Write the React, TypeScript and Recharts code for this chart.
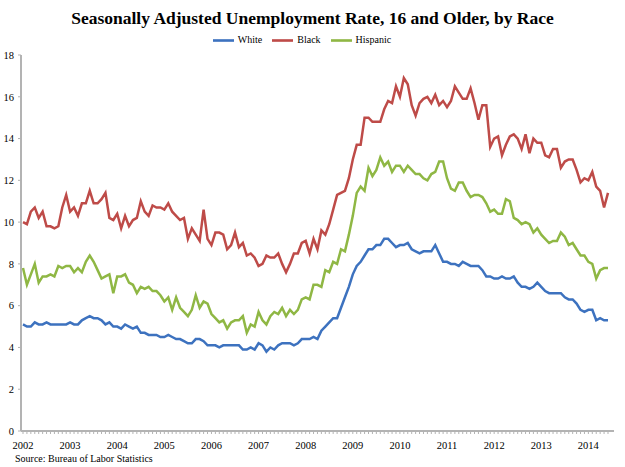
import React from "react";
import { Legend, Line, LineChart, XAxis, YAxis } from "recharts";

// Monthly rates, Jan 2002 – Jun 2014 (percent, seasonally adjusted)
const years = [2002, 2003, 2004, 2005, 2006, 2007, 2008, 2009, 2010, 2011, 2012, 2013, 2014];

const white = [
  5.1, 5.0, 5.0, 5.2, 5.1, 5.1, 5.2, 5.1, 5.1, 5.1, 5.1, 5.1,
  5.2, 5.1, 5.1, 5.3, 5.4, 5.5, 5.4, 5.4, 5.3, 5.1, 5.2, 5.0,
  5.0, 4.9, 5.1, 5.0, 4.9, 5.0, 4.7, 4.7, 4.6, 4.6, 4.6, 4.5,
  4.5, 4.6, 4.5, 4.4, 4.4, 4.3, 4.2, 4.2, 4.4, 4.4, 4.3, 4.1,
  4.1, 4.1, 4.0, 4.1, 4.1, 4.1, 4.1, 4.1, 3.9, 3.9, 4.0, 3.9,
  4.2, 4.1, 3.8, 4.0, 3.9, 4.1, 4.2, 4.2, 4.2, 4.1, 4.2, 4.4,
  4.4, 4.4, 4.5, 4.4, 4.8, 5.0, 5.2, 5.4, 5.4, 5.9, 6.4, 6.9,
  7.5, 7.9, 8.1, 8.4, 8.7, 8.7, 8.9, 8.9, 9.2, 9.2, 9.0, 8.8,
  8.9, 8.9, 9.0, 8.7, 8.6, 8.5, 8.6, 8.6, 8.6, 8.9, 8.5, 8.1,
  8.1, 8.0, 8.0, 7.9, 8.1, 8.0, 7.9, 7.9, 7.9, 7.7, 7.4, 7.4,
  7.3, 7.3, 7.4, 7.3, 7.3, 7.4, 7.1, 6.9, 6.9, 6.8, 6.9, 7.1,
  6.9, 6.7, 6.6, 6.6, 6.6, 6.6, 6.4, 6.3, 6.3, 6.1, 5.8, 5.7,
  5.8, 5.8, 5.3, 5.4, 5.3, 5.3,
];

const black = [
  10.0, 9.9, 10.5, 10.7, 10.2, 10.5, 9.8, 9.8, 9.7, 9.8, 10.7, 11.3,
  10.5, 10.7, 10.3, 10.9, 10.9, 11.5, 10.9, 10.9, 11.1, 11.4, 10.2, 10.1,
  10.4, 9.7, 10.3, 9.8, 10.1, 10.2, 11.0, 10.5, 10.3, 10.8, 10.7, 10.7,
  10.6, 10.9, 10.5, 10.3, 10.1, 10.2, 9.2, 9.7, 9.4, 9.1, 10.6, 9.2,
  8.9, 9.5, 9.5, 9.4, 8.7, 8.9, 9.5, 8.8, 9.0, 8.4, 8.5, 8.3,
  7.9, 8.0, 8.4, 8.3, 8.3, 8.5, 8.0, 7.6, 8.0, 8.5, 8.5, 9.0,
  9.1, 8.5, 9.2, 8.7, 9.6, 9.4, 9.9, 10.6, 11.3, 11.4, 11.5, 12.1,
  13.0, 13.7, 13.7, 15.0, 15.0, 14.8, 14.8, 14.8, 15.4, 15.8, 15.7, 16.5,
  16.0, 16.9, 16.6, 15.6, 15.1, 15.7, 15.9, 16.0, 15.7, 16.1, 15.6, 15.8,
  15.5, 15.8, 16.5, 16.2, 15.9, 15.9, 16.4, 15.7, 14.9, 15.6, 15.6, 13.6,
  14.0, 14.1, 13.2, 13.7, 14.1, 14.2, 14.0, 13.5, 14.2, 13.3, 14.0, 13.8,
  13.8, 13.2, 13.1, 13.5, 13.5, 12.6, 12.9, 13.0, 13.0, 12.5, 11.9, 12.1,
  12.0, 12.4, 11.7, 11.5, 10.7, 11.4,
];

const hispanic = [
  7.8, 7.0, 7.5, 8.0, 7.1, 7.4, 7.4, 7.5, 7.4, 7.9, 7.8, 7.9,
  7.9, 7.6, 7.8, 7.6, 8.1, 8.4, 8.1, 7.7, 7.3, 7.4, 7.5, 6.6,
  7.4, 7.4, 7.5, 7.1, 7.0, 6.6, 6.9, 6.8, 6.9, 6.7, 6.7, 6.5,
  6.2, 6.4, 5.8, 6.4, 5.9, 5.7, 5.5, 5.8, 6.5, 5.9, 6.2, 6.1,
  5.6, 5.4, 5.2, 5.3, 4.9, 5.2, 5.3, 5.3, 5.5, 4.7, 5.1, 5.0,
  5.7, 5.3, 5.1, 5.5, 5.7, 5.6, 5.9, 5.5, 5.8, 5.6, 5.8, 6.3,
  6.4, 6.3, 7.0, 7.0, 6.9, 7.7, 7.6, 8.1, 8.0, 8.7, 8.6, 9.4,
  10.3, 11.4, 11.7, 11.5, 12.6, 12.2, 12.5, 13.1, 12.7, 12.9, 12.4, 12.7,
  12.7, 12.4, 12.7, 12.5, 12.3, 12.3, 12.1, 12.0, 12.3, 12.4, 12.9, 12.9,
  12.1, 11.6, 11.5, 11.9, 11.9, 11.5, 11.2, 11.3, 11.3, 11.2, 10.9, 10.5,
  10.6, 10.4, 10.4, 11.1, 11.0, 10.2, 10.1, 9.9, 10.0, 9.9, 9.5, 9.7,
  9.4, 9.2, 9.0, 9.1, 9.1, 9.5, 9.3, 8.9, 9.0, 8.7, 8.4, 8.4,
  8.1, 8.0, 7.3, 7.7, 7.8, 7.8,
];

const yTicks = [0, 2, 4, 6, 8, 10, 12, 14, 16, 18];

const months = years.flatMap((y) =>
  Array.from({ length: 12 }, (_, m) => `${y}-${String(m + 1).padStart(2, "0")}`)
).slice(0, white.length);

const data = months.map((month, i) => ({
  month,
  white: white[i],
  black: black[i],
  hispanic: hispanic[i],
}));

const FONT = "'Liberation Serif', 'Times New Roman', serif";
const AXIS_GRAY = "#b3b3b3";

function yearLabel(month: string) {
  return month.endsWith("-01") ? month.slice(0, 4) : "";
}

export default function App() {
  return (
    <div
      style={{
        position: "absolute",
        left: 0,
        top: 0,
        width: 625,
        height: 467,
        background: "#fff",
        fontFamily: FONT,
      }}
    >
      <div
        style={{
          position: "absolute",
          top: 8,
          width: 625,
          textAlign: "center",
          fontWeight: "bold",
          fontSize: 17.5,
          color: "#000",
        }}
      >
        Seasonally Adjusted Unemployment Rate, 16 and Older, by Race
      </div>
      <LineChart
        width={625}
        height={467}
        data={data}
        margin={{ top: 34, right: 11, bottom: 16, left: 0 }}
      >
        <Legend
          verticalAlign="top"
          align="center"
          iconType="plainline"
          iconSize={21}
          itemSorter={() => 0}
          wrapperStyle={{ top: 30, fontFamily: FONT, fontSize: 10 }}
          formatter={(value) => <span style={{ color: "#000" }}>{value}</span>}
        />
        <XAxis
          dataKey="month"
          interval={0}
          tickFormatter={yearLabel}
          tickSize={3}
          tickMargin={8}
          height={20}
          padding={{ left: 2, right: 6 }}
          axisLine={{ stroke: AXIS_GRAY, strokeWidth: 2 }}
          tickLine={{ stroke: AXIS_GRAY }}
          tick={{ fontFamily: FONT, fontSize: 10.5, fill: "#000" }}
        />
        <YAxis
          domain={[0, 18]}
          ticks={yTicks}
          width={21}
          tickSize={3}
          tickMargin={4}
          axisLine={{ stroke: AXIS_GRAY, strokeWidth: 2 }}
          tickLine={{ stroke: AXIS_GRAY }}
          tick={{ fontFamily: FONT, fontSize: 10.5, fill: "#000" }}
        />
        <Line
          dataKey="white"
          name="White"
          stroke="#3d72bf"
          strokeWidth={2.5}
          dot={false}
          type="linear"
          isAnimationActive={false}
        />
        <Line
          dataKey="black"
          name="Black"
          stroke="#be4b48"
          strokeWidth={2.5}
          dot={false}
          type="linear"
          isAnimationActive={false}
        />
        <Line
          dataKey="hispanic"
          name="Hispanic"
          stroke="#8fb744"
          strokeWidth={2.5}
          dot={false}
          type="linear"
          isAnimationActive={false}
        />
      </LineChart>
      <div
        style={{
          position: "absolute",
          left: 15,
          top: 453,
          fontSize: 10,
          color: "#000",
        }}
      >
        Source: Bureau of Labor Statistics
      </div>
    </div>
  );
}
